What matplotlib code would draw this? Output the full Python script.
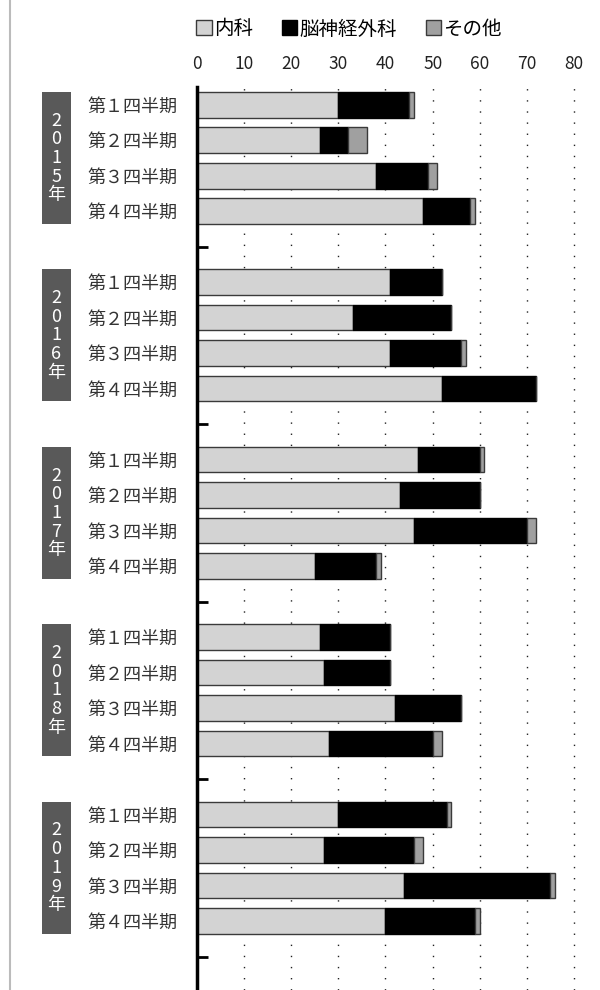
import matplotlib
matplotlib.use("Agg")
import matplotlib.pyplot as plt
import matplotlib.transforms as mtransforms
from matplotlib.patches import Patch, Rectangle
from matplotlib.lines import Line2D
import numpy as np

plt.rcParams['font.family'] = ['Noto Sans CJK JP', 'DejaVu Sans']

# data
years = ['2015', '2016', '2017', '2018', '2019']
quarters = ['第１四半期', '第２四半期', '第３四半期', '第４四半期']
series = ['内科', '脳神経外科', 'その他']
naika = [30, 26, 38, 48,
         41, 33, 41, 52,
         47, 43, 46, 25,
         26, 27, 42, 28,
         30, 27, 44, 40]
noushinkei = [15, 6, 11, 10,
              11, 21, 15, 20,
              13, 17, 24, 13,
              15, 14, 14, 22,
              23, 19, 31, 19]
sonota = [1, 4, 2, 1,
          0, 0, 1, 0,
          1, 0, 2, 1,
          0, 0, 0, 2,
          1, 2, 1, 1]
x_ticks = [0, 10, 20, 30, 40, 50, 60, 70, 80]

colors = ['#d3d3d3', '#000000', '#a0a0a0']
edges = ['#3a3a3a', '#000000', '#3a3a3a']

W, H = 600, 990
fig = plt.figure(figsize=(W / 100, H / 100), dpi=100)
ax = fig.add_axes([197 / W, 0.0, (574 - 197) / W, 1 - 87 / H])

# positions: 4 bars per year then one empty slot
pos = []
gap_pos = []
for yi in range(len(years)):
    for qi in range(len(quarters)):
        pos.append(yi * 5 + qi)
    gap_pos.append(yi * 5 + 4)
pos = np.array(pos)

left = np.zeros(len(pos))
for vals, c, ec in zip([naika, noushinkei, sonota], colors, edges):
    vals = np.array(vals, dtype=float)
    ax.barh(pos, vals, left=left, height=0.72, color=c, edgecolor=ec,
            linewidth=1.0, zorder=3)
    left += vals

ax.set_xlim(0, 80)
ax.set_ylim(24.94, -0.5)

# x axis on top
ax.xaxis.tick_top()
ax.set_xticks(x_ticks)
ax.tick_params(axis='x', length=0, pad=10, labelsize=12.5, labelcolor='#222222')
for xv in x_ticks[1:]:
    ax.axvline(xv, color='#222222', linestyle=(0, (1, 7)), linewidth=1.0,
               zorder=1, clip_on=False)

# y axis labels and tick marks at the gaps
ax.set_yticks(pos)
ax.set_yticklabels(quarters * len(years))
ax.tick_params(axis='y', which='major', length=0, pad=14, labelsize=13,
               labelcolor='#333333')
ax.set_yticks(gap_pos, minor=True)
ax.tick_params(axis='y', which='minor', direction='in', length=8, width=2,
               color='black')

for s in ['top', 'right', 'bottom']:
    ax.spines[s].set_visible(False)
ax.spines['left'].set_linewidth(2.5)
ax.spines['left'].set_zorder(5)

# year boxes
trans = mtransforms.blended_transform_factory(fig.transFigure, ax.transData)
for yi, yr in enumerate(years):
    top = yi * 5 - 0.36
    bot = yi * 5 + 3 + 0.36
    ax.add_patch(Rectangle((42 / W, top), 29 / W, bot - top, transform=trans,
                           facecolor='#595959', edgecolor='none', clip_on=False))
    ax.text(56.5 / W, (top + bot) / 2, '\n'.join(list(yr) + ['年']),
            transform=trans, ha='center', va='center', color='white',
            fontsize=13, linespacing=1.05)

# left border line
fig.add_artist(Line2D([10 / W, 10 / W], [0, 1], color='#bbbbbb', linewidth=1.5))

# legend
handles = [Patch(facecolor=c, edgecolor=ec, linewidth=1.0)
           for c, ec in zip(colors, edges)]
fig.legend(handles, series, loc='center', bbox_to_anchor=(349 / W, 1 - 29 / H),
           ncol=3, frameon=False, fontsize=14, handlelength=0.8, handleheight=0.8,
           handletextpad=0.1, columnspacing=1.5)

fig.savefig('out.png', dpi=100)
